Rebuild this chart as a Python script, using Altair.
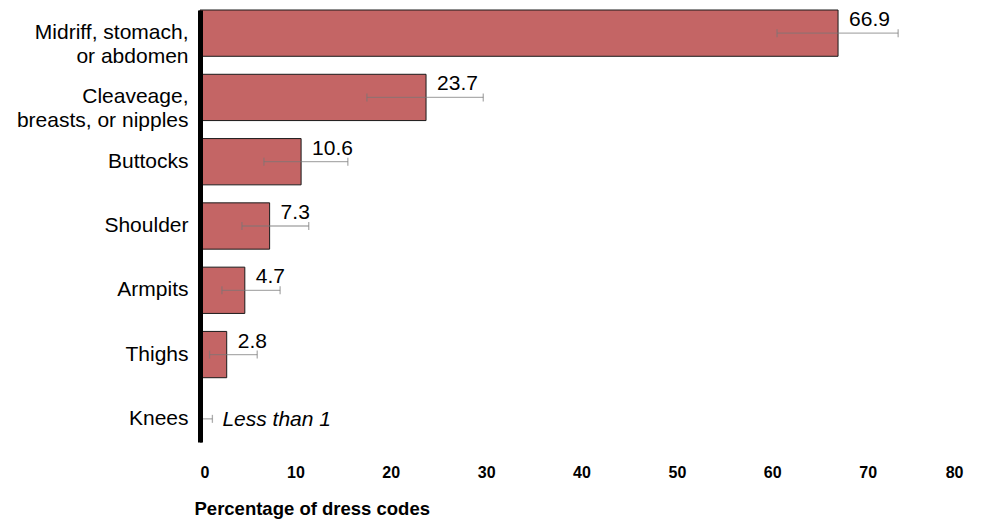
import altair as alt
import pandas as pd

categories = [
    "Midriff, stomach,\nor abdomen",
    "Cleaveage,\nbreasts, or nipples",
    "Buttocks",
    "Shoulder",
    "Armpits",
    "Thighs",
    "Knees",
]
values = [66.9, 23.7, 10.6, 7.3, 4.7, 2.8, 0.2]
lower = [60.5, 17.5, 6.7, 4.4, 2.3, 1.0, 0.0]
upper = [73.2, 29.7, 15.5, 11.4, 8.4, 6.0, 1.3]
labels = ["66.9", "23.7", "10.6", "7.3", "4.7", "2.8", "Less than 1"]
small = [False, False, False, False, False, False, True]

df = pd.DataFrame({
    "cat": categories, "value": values, "lo": lower, "hi": upper,
    "label": labels, "small": small,
})

FONT = "Liberation Sans"

y_enc = alt.Y(
    "cat:N", sort=categories, title=None,
    scale=alt.Scale(paddingInner=0.28, paddingOuter=0),
    axis=alt.Axis(
        labelExpr="split(datum.label, '\\n')",
        labelFont=FONT, labelFontSize=21, labelColor="#000000",
        labelLineHeight=24, labelPadding=12, labelLimit=400,
        ticks=False, domain=True, domainColor="#000000", domainWidth=5,
        grid=False, zindex=2,
    ),
)
x_scale = alt.Scale(domain=[0, 80], nice=False)
x_axis = alt.Axis(
    values=[0, 10, 20, 30, 40, 50, 60, 70, 80],
    labelFont=FONT, labelFontSize=16, labelFontWeight="bold", labelColor="#000000",
    labelPadding=22, ticks=False, domain=False, grid=False,
    title="Percentage of dress codes", titleFont=FONT, titleFontSize=18.5,
    titleFontWeight="bold", titleColor="#000000", titleAnchor="start",
    titleAlign="left", titleX=-6, titleY=57, titleBaseline="top",
)

base = alt.Chart(df)

bars = base.mark_bar(color="#C46565", stroke="#1a1a1a", strokeWidth=1).encode(
    x=alt.X("value:Q", scale=x_scale, axis=x_axis),
    y=y_enc,
)

ycat = alt.Y("cat:N", sort=categories)
err = base.mark_rule(color="#777777", opacity=0.6, strokeWidth=1.3).encode(
    x="lo:Q", x2="hi:Q", y=ycat,
)
cap_lo = base.mark_tick(color="#777777", opacity=0.6, thickness=1.3, size=8).encode(
    x="lo:Q", y=ycat,
)
cap_hi = base.mark_tick(color="#777777", opacity=0.6, thickness=1.3, size=8).encode(
    x="hi:Q", y=ycat,
)

txt = base.transform_filter("!datum.small").mark_text(
    font=FONT, fontSize=21, color="#000000", align="left", baseline="middle",
    dx=11, dy=-13,
).encode(x="value:Q", y=ycat, text="label:N")

txt_small = base.transform_filter("datum.small").mark_text(
    font=FONT, fontSize=21, fontStyle="italic", color="#000000", align="left",
    baseline="middle", dx=10, dy=1,
).encode(x="hi:Q", y=ycat, text="label:N")

chart = alt.layer(bars, err, cap_lo, cap_hi, txt, txt_small).properties(
    width=763, height=432,
    autosize=alt.AutoSizeParams(type="none"),
    padding={"left": 192, "top": 2, "right": 20, "bottom": 80},
).configure_view(strokeWidth=0, stroke="transparent")

chart.save("out.html", embed_options={"renderer": "svg", "actions": False})
